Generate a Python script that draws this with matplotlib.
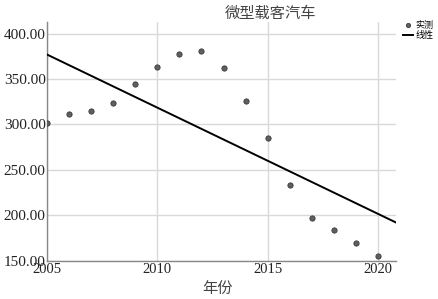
import numpy as np
import matplotlib.pyplot as plt

# 数据
years = [2005, 2006, 2007, 2008, 2009, 2010, 2011, 2012,
         2013, 2014, 2015, 2016, 2017, 2018, 2019, 2020]
values = [301.0, 311.1, 314.4, 323.7, 344.0, 363.3, 377.0, 380.7,
          361.8, 326.2, 284.8, 232.9, 196.3, 184.0, 169.2, 155.1]
x_ticks = [2005, 2010, 2015, 2020]
y_ticks = [150, 200, 250, 300, 350, 400]

serif = ['Liberation Serif', 'Noto Sans CJK SC']
cjk = ['Noto Sans CJK SC', 'DejaVu Sans']

fig = plt.figure(figsize=(4.39, 2.99), dpi=100)
ax = fig.add_axes([47 / 439, 1 - 260.5 / 299, 348.7 / 439, 238.8 / 299])

# 线性拟合
k, b = np.polyfit(years, values, 1)
xs = np.array([2005, 2020.8])
ax.plot(xs, k * xs + b, color='black', lw=1.4, label='线性', zorder=3)
ax.plot(years, values, 'o', ms=3.8, mfc='#5f5f5f', mec='#3a3a3a', mew=0.6,
        label='实测', zorder=4)

ax.set_xlim(2005, 2020.8)
ax.set_ylim(150, 413)
ax.set_xticks(x_ticks)
ax.set_yticks(y_ticks)
ax.set_yticklabels([f'{v:.2f}' for v in y_ticks], family=serif, fontsize=11)
ax.set_xticklabels([str(v) for v in x_ticks], family=serif, fontsize=10.5)
ax.tick_params(axis='y', length=0, pad=1, colors='#222222')
ax.tick_params(axis='x', length=0, pad=2, colors='#222222')
ax.grid(True, color='#d9d9d9', lw=1)
ax.set_axisbelow(True)
for s in ['top', 'right']:
    ax.spines[s].set_visible(False)
for s in ['left', 'bottom']:
    ax.spines[s].set_color('#888888')
    ax.spines[s].set_linewidth(1)

fig.text(270 / 439, 1 - 13 / 299, '微型载客汽车', family=cjk, fontsize=11,
         ha='center', va='center', color='#444444')
fig.text(218 / 439, 1 - 288 / 299, '年份', family=cjk, fontsize=11,
         ha='center', va='center', color='#444444')

h, l = ax.get_legend_handles_labels()
fig.legend(h[::-1], l[::-1], loc='upper left', bbox_to_anchor=(403 / 439, 1 - 21 / 299),
           frameon=False, prop={'family': cjk, 'size': 6.5}, handlelength=1.1,
           handletextpad=0.3, labelspacing=0.15, borderpad=0, borderaxespad=0,
           markerscale=0.8)

fig.savefig('out.png', dpi=100)
